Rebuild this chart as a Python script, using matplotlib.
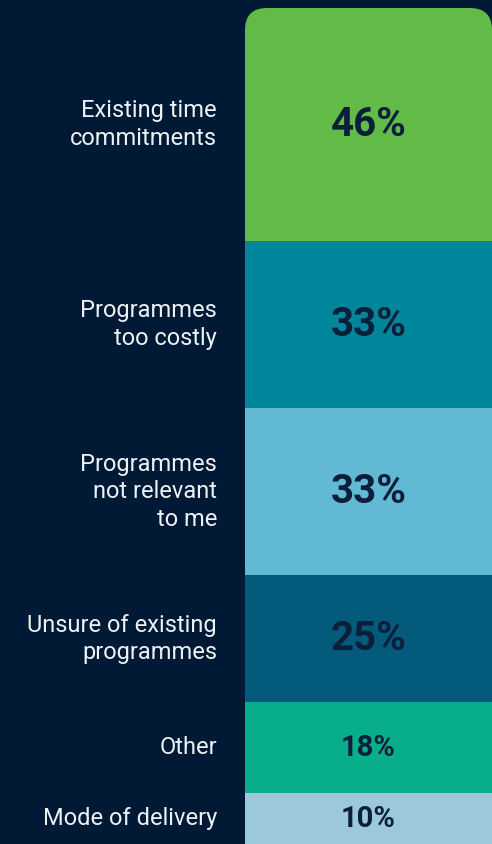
import numpy as np
import matplotlib.pyplot as plt
from matplotlib.patches import FancyBboxPatch

# barriers to taking part in programmes, share of respondents
reasons = ['Existing time\ncommitments', 'Programmes\ntoo costly', 'Programmes\nnot relevant\nto me',
           'Unsure of existing\nprogrammes', 'Other', 'Mode of delivery']
shares = [46, 33, 33, 25, 18, 10]
colors = ['#62bb46', '#00869b', '#62b9d3', '#045a7b', '#08ae8a', '#9bc9d9']

bg = '#001a35'
plt.rcParams['font.family'] = ['Roboto', 'DejaVu Sans']

fig = plt.figure(figsize=(4.92, 8.44), dpi=100, facecolor=bg)
ax = fig.add_axes([245 / 492, 0, 247 / 492, 836 / 844])
ax.set_facecolor(bg)

total = sum(shares)
bottoms = np.concatenate([[0], np.cumsum(shares)[:-1]])
bars = ax.bar(0.5, shares, bottom=bottoms, width=1.0, color=colors, linewidth=0)
ax.set_xlim(0, 1)
ax.set_ylim(total, 0)
ax.axis('off')

# rounded top corners on the whole column
r_px = 22
rx = r_px / 247
ry = r_px * total / 836
clip = FancyBboxPatch((0, 0), 1, total * 1.2, boxstyle=f'round,pad=0,rounding_size={rx}',
                      mutation_aspect=ry / rx, transform=ax.transData, facecolor='none', edgecolor='none')
ax.add_patch(clip)
for b in bars:
    b.set_clip_path(clip)

for reason, share, b0 in zip(reasons, shares, bottoms):
    mid = b0 + share / 2
    size = 29 if share >= 20 else 21
    ax.text(0.5, mid, f'{share}%', ha='center', va='center', fontsize=size,
            fontweight='bold', color='#0c1f3a')
    ax.annotate(reason, xy=(0, mid), xytext=(-28, 0), textcoords='offset pixels',
                ha='right', va='center', fontsize=17, color='#eef1f4', linespacing=1.25,
                annotation_clip=False)

fig.savefig('out.png', dpi=100, facecolor=bg)
